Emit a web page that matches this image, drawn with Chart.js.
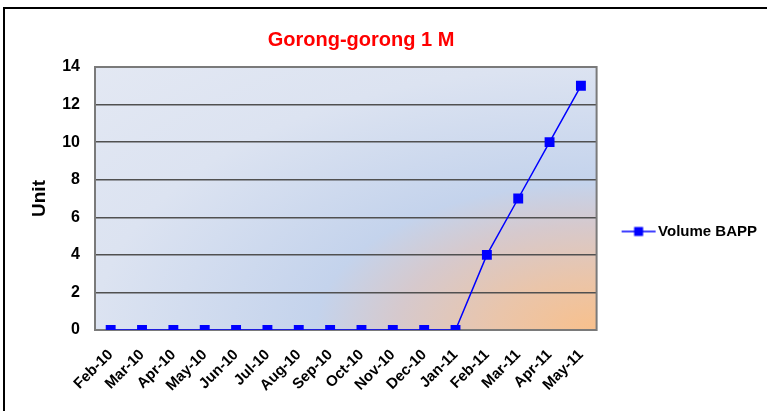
<!DOCTYPE html>
<html>
<head>
<meta charset="utf-8">
<script src="https://cdn.jsdelivr.net/npm/chart.js@4"></script>
<style>
  html, body { margin: 0; padding: 0; background: #fff; overflow: hidden; }
  #frame { position: absolute; left: 3px; top: 7px; width: 800px; height: 500px;
           border-left: 2px solid #000; border-top: 2px solid #000;
           box-shadow: 0 1px 0 #aaa; }
  #wrap { position: absolute; left: 0; top: 0; width: 767px; height: 411px; }
</style>
</head>
<body>
<div id="frame"></div>
<div id="wrap"><canvas id="c" width="767" height="411"></canvas></div>
<script>
const categories = ['Feb-10','Mar-10','Apr-10','May-10','Jun-10','Jul-10','Aug-10','Sep-10',
                    'Oct-10','Nov-10','Dec-10','Jan-11','Feb-11','Mar-11','Apr-11','May-11'];
const volumeBAPP = [0,0,0,0,0,0,0,0,0,0,0,0,4,7,10,13];
const yTicks = [0,2,4,6,8,10,12,14];
const seriesName = 'Volume BAPP';
const chartTitle = 'Gorong-gorong 1 M';
const yTitle = 'Unit';

const FONT = '"Liberation Sans", Arial, sans-serif';

// legend symbol: line with square marker (left part transparent to shift it right)
const sym = document.createElement('canvas');
sym.width = 56; sym.height = 12;
(function(){
  const g = sym.getContext('2d');
  g.strokeStyle = '#0000ff'; g.lineWidth = 1.5;
  g.beginPath(); g.moveTo(21, 6); g.lineTo(55, 6); g.stroke();
  g.fillStyle = '#0000ff'; g.fillRect(33.5, 1.5, 9, 9);
})();

const bgPlugin = {
  id: 'bg',
  beforeDraw(chart) {
    const {ctx, chartArea: a} = chart;
    const w = a.right - a.left, h = a.bottom - a.top;
    ctx.save();
    ctx.beginPath(); ctx.rect(a.left, a.top, w, h); ctx.clip();
    ctx.translate(a.right, a.bottom);
    ctx.scale(w, h);
    const R = 1.42;
    const g = ctx.createRadialGradient(0, 0, 0, 0, 0, R);
    g.addColorStop(0, '#f8c08c');
    g.addColorStop(0.2 / R, '#eac5aa');
    g.addColorStop(0.4 / R, '#d6c9cd');
    g.addColorStop(0.56 / R, '#c4d3ec');
    g.addColorStop(1.0 / R, '#dce3f1');
    g.addColorStop(1, '#e3e8f3');
    ctx.fillStyle = g;
    ctx.fillRect(-1.1, -1.1, 1.2, 1.2);
    ctx.restore();
  },
  beforeDatasetsDraw(chart) {
    const {ctx, chartArea: a} = chart;
    ctx.save();
    ctx.strokeStyle = '#7a7a7a'; ctx.lineWidth = 2;
    ctx.strokeRect(a.left, a.top, a.right - a.left, a.bottom - a.top);
    ctx.restore();
  },
  afterLayout(chart) {
    const t = chart.titleBlock;
    if (t) { t.left = 0; t.right = 722; }
    const l = chart.legend;
    if (l) { l.top += 26; l.bottom += 26; }
  }
};

new Chart(document.getElementById('c'), {
  type: 'line',
  data: {
    labels: categories,
    datasets: [{
      label: seriesName,
      data: volumeBAPP,
      borderColor: '#0000ff',
      backgroundColor: '#0000ff',
      borderWidth: 1.5,
      pointStyle: 'rect',
      pointRadius: 7,
      pointHoverRadius: 7,
      pointBackgroundColor: '#0000ff',
      pointBorderColor: '#0000ff',
      pointBorderWidth: 0,
      tension: 0,
      fill: false
    }]
  },
  options: {
    responsive: false,
    animation: false,
    layout: { padding: { left: 0, right: 0, top: 0, bottom: 0 } },
    plugins: {
      title: {
        display: true, text: chartTitle, color: '#ff0000',
        font: { family: FONT, size: 20, weight: 'bold' },
        padding: { top: 28, bottom: 15 }
      },
      legend: {
        display: true, position: 'right',
        labels: {
          color: '#000', font: { family: FONT, size: 15, weight: 'bold' },
          usePointStyle: true, pointStyle: sym, pointStyleWidth: 44, padding: 10
        }
      },
      tooltip: { enabled: false }
    },
    scales: {
      x: {
        offset: true,
        grid: { display: false, drawTicks: false },
        border: { display: false },
        ticks: {
          color: '#000', font: { family: FONT, size: 15, weight: 'bold' },
          minRotation: 45, maxRotation: 45, autoSkip: false, padding: 16
        },
        afterFit(s) { s.height = 81; }
      },
      y: {
        min: 0, max: 14,
        afterBuildTicks(s) { s.ticks = yTicks.map(v => ({ value: v })); },
        grid: { color: '#505050', lineWidth: 1.5, drawTicks: false },
        border: { display: false },
        ticks: { color: '#000', font: { family: FONT, size: 16, weight: 'bold' }, padding: 15 },
        title: {
          display: true, text: yTitle, color: '#000',
          font: { family: FONT, size: 19, weight: 'bold' },
          padding: { top: 28, bottom: 0 }
        },
        afterFit(s) { s.width = 95; }
      }
    }
  },
  plugins: [bgPlugin]
});
</script>
</body>
</html>
